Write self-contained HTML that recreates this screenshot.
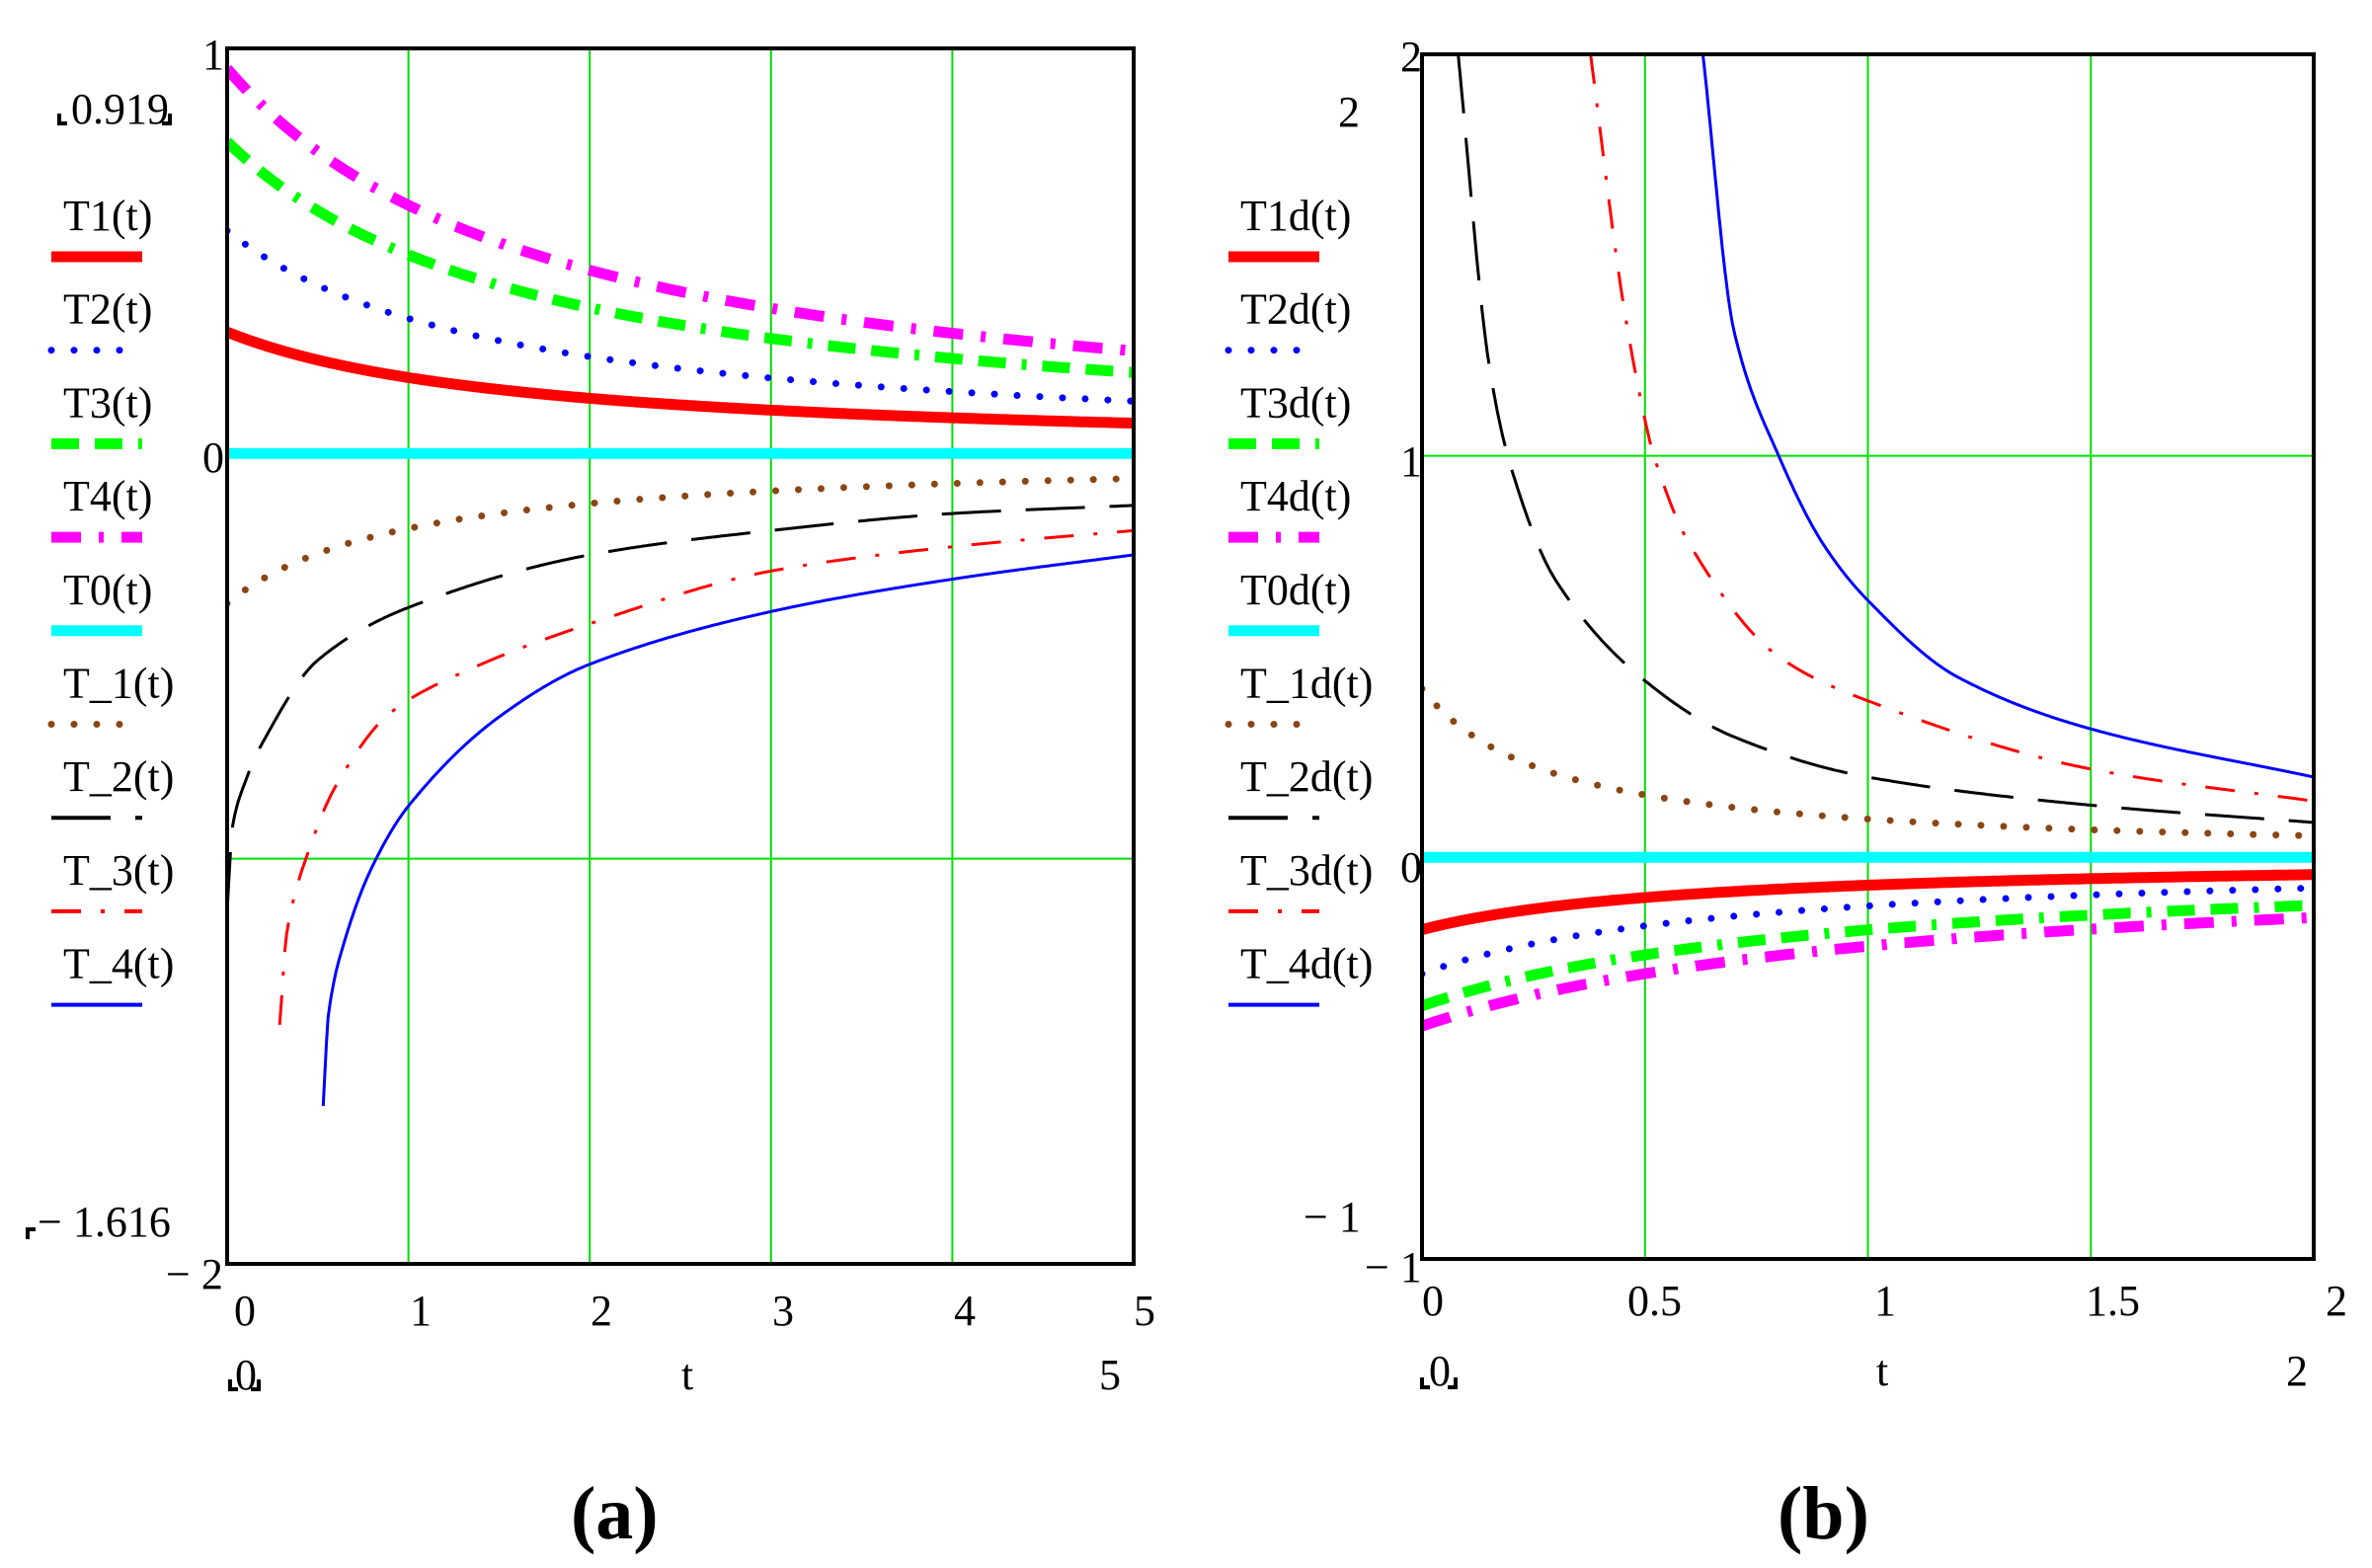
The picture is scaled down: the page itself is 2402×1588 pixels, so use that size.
<!DOCTYPE html>
<html><head><meta charset="utf-8"><style>
html,body{margin:0;padding:0;background:#fff;}
svg{display:block;}
text{font-family:"Liberation Serif",serif;fill:#000;}
</style></head><body>
<svg id="s" xmlns="http://www.w3.org/2000/svg" width="2402" height="1588" viewBox="0 0 2402 1588">
<defs>
<clipPath id="ca"><rect x="230" y="49" width="918" height="1231"/></clipPath>
<clipPath id="cb"><rect x="1440" y="55" width="903" height="1220"/></clipPath>
</defs>
<g id="ga"></g>
<g id="gb"></g>
<g font-size="44">
<text x="205" y="70">1</text>
<text x="205" y="478">0</text>
<text x="168" y="1305">− 2</text>
<text x="237" y="1342">0</text>
<text x="415" y="1342">1</text>
<text x="598" y="1342">2</text>
<text x="782" y="1342">3</text>
<text x="966" y="1342">4</text>
<text x="1148" y="1342">5</text>
<text x="238" y="1407">0</text>
<text x="690" y="1407">t</text>
<text x="1113" y="1407">5</text>
<text x="72" y="125">0.919</text>
<text x="38" y="1252">− 1.616</text>
<text x="578" y="1558" font-size="76" font-weight="bold">(a)</text>
<text x="1418" y="72">2</text>
<text x="1355" y="128">2</text>
<text x="1418" y="482">1</text>
<text x="1418" y="893">0</text>
<text x="1320" y="1247">− 1</text>
<text x="1382" y="1298">− 1</text>
<text x="1440" y="1332">0</text>
<text x="1648" y="1332">0.5</text>
<text x="1898" y="1332">1</text>
<text x="2112" y="1332">1.5</text>
<text x="2355" y="1332">2</text>
<text x="1447" y="1403">0</text>
<text x="1900" y="1403">t</text>
<text x="2315" y="1403">2</text>
<text x="1800" y="1558" font-size="76" font-weight="bold">(b)</text>
</g>
</svg>
<script>
const NS="http://www.w3.org/2000/svg";
function el(p,tag,a){const e=document.createElementNS(NS,tag);for(const k in a)e.setAttribute(k,a[k]);p.appendChild(e);return e;}
function txt(p,x,y,s){const e=el(p,"text",{x:x,y:y,"font-size":44});e.textContent=s;}
const S=document.getElementById('s');
function brk(x1,x2,y){el(S,"path",{d:`M${x1} ${y-10}V${y}H${x1+8} M${x2-8} ${y}H${x2}V${y-10}`,stroke:"#000","stroke-width":4,fill:"none"});}
brk(60,172,125);brk(233,262,1407);brk(1440,1474,1405);
el(S,"path",{d:"M28 1255V1245H36",stroke:"#000","stroke-width":4,fill:"none"});

function mono(pts){
 const n=pts.length,x=pts.map(p=>p[0]),y=pts.map(p=>p[1]);
 const d=[],m=new Array(n);
 for(let i=0;i<n-1;i++)d.push((y[i+1]-y[i])/(x[i+1]-x[i]));
 m[0]=d[0];m[n-1]=d[n-2];
 for(let i=1;i<n-1;i++){m[i]=(d[i-1]*d[i]<=0)?0:2/(1/d[i-1]+1/d[i]);}
 return t=>{if(t<=x[0])return y[0];if(t>=x[n-1])return y[n-1];
  let i=0;while(t>x[i+1])i++;
  const h=x[i+1]-x[i],s=(t-x[i])/h,s2=s*s,s3=s2*s;
  return (2*s3-3*s2+1)*y[i]+(s3-2*s2+s)*h*m[i]+(-2*s3+3*s2)*y[i+1]+(s3-s2)*h*m[i+1];};
}
const styles={
 r:{stroke:"#ff0000","stroke-width":11},
 bd:{stroke:"#0000ff","stroke-width":7,"stroke-dasharray":"0 23","stroke-linecap":"round"},
 g:{stroke:"#00ff00","stroke-width":11,"stroke-dasharray":"28 16 28 16 5 16"},
 m:{stroke:"#ff00ff","stroke-width":11,"stroke-dasharray":"30 18 5 18"},
 c:{stroke:"#00ffff","stroke-width":11},
 br:{stroke:"#8b4513","stroke-width":7,"stroke-dasharray":"0 23","stroke-linecap":"round"},
 k:{stroke:"#000","stroke-width":3,"stroke-dasharray":"60 25"},
 rr:{stroke:"#ff0000","stroke-width":3,"stroke-dasharray":"30 20 4 20"},
 b:{stroke:"#0000ff","stroke-width":3}
};
function panel(gid,clip,L,R,T,B,xmax,ymin,ymax,xgrid,ygrid,series,legend,lx){
 const g=document.getElementById(gid);
 const X=t=>L+(R-L)*t/xmax, Y=v=>T+(B-T)*(ymax-v)/(ymax-ymin);
 xgrid.forEach(t=>el(g,"line",{x1:X(t),x2:X(t),y1:T,y2:B,stroke:"#00e000","stroke-width":2}));
 ygrid.forEach(v=>el(g,"line",{x1:L,x2:R,y1:Y(v),y2:Y(v),stroke:"#00e000","stroke-width":2}));
 const cg=el(g,"g",{"clip-path":`url(#${clip})`});
 series.forEach(s=>{let d="";const n=500;for(let i=0;i<=n;i++){const t=s.t0+(s.t1-s.t0)*i/n;const v=s.f(t);d+=(i?"L":"M")+X(t).toFixed(1)+" "+Y(v).toFixed(1);}
  el(cg,"path",Object.assign({d:d,fill:"none"},styles[s.st]));});
 el(g,"rect",{x:L,y:T,width:R-L,height:B-T,fill:"none",stroke:"#000","stroke-width":4});
 legend.forEach((l,i)=>{const by=233+i*94.7;txt(g,lx+12,by,l[0]);
   el(g,"line",Object.assign({x1:lx,x2:lx+92,y1:by+27,y2:by+27},styles[l[1]],{"stroke-width":(styles[l[1]]["stroke-width"]>5?styles[l[1]]["stroke-width"]:4)}));});
}
const A=[
 {st:"r",t0:0,t1:5,f:t=>0.3/(1+0.6*t)},
 {st:"bd",t0:0,t1:5,f:t=>0.55/(1+0.65*t)},
 {st:"g",t0:0,t1:5,f:t=>0.77/(1+0.57*t)},
 {st:"m",t0:0,t1:5,f:t=>0.95/(1+0.55*t)},
 {st:"c",t0:0,t1:5,f:t=>0},
 {st:"br",t0:0,t1:5,f:t=>-0.37/(1+1.0*t)},
 {st:"k",t0:0,t1:5,f:mono([[0,-1.13],[0.03,-0.92],[0.1,-0.81],[0.2,-0.71],[0.5,-0.51],[1,-0.38],[2,-0.25],[3,-0.19],[4,-0.148],[5,-0.128]])},
 {st:"rr",t0:0.29,t1:5,f:mono([[0.29,-1.41],[0.33,-1.18],[0.45,-0.98],[0.6,-0.82],[0.9,-0.64],[1.3,-0.54],[2,-0.42],[3,-0.29],[4,-0.23],[5,-0.19]])},
 {st:"b",t0:0.53,t1:5,f:mono([[0.53,-1.61],[0.56,-1.38],[0.65,-1.2],[0.8,-1.02],[1,-0.87],[1.5,-0.65],[2,-0.52],[3,-0.39],[4,-0.31],[5,-0.25]])}
];
panel("ga","ca",230,1148,49,1280,5,-2,1,[1,2,3,4],[-1],A,
 [["T1(t)","r"],["T2(t)","bd"],["T3(t)","g"],["T4(t)","m"],["T0(t)","c"],["T_1(t)","br"],["T_2(t)","k"],["T_3(t)","rr"],["T_4(t)","b"]],52);
const Bs=[
 {st:"r",t0:0,t1:2,f:t=>-0.18/(1+1.6*t)},
 {st:"bd",t0:0,t1:2,f:t=>-0.29/(1+1.4*t)},
 {st:"g",t0:0,t1:2,f:t=>-0.37/(1+1.05*t)},
 {st:"m",t0:0,t1:2,f:t=>-0.42/(1+0.9*t)},
 {st:"c",t0:0,t1:2,f:t=>0},
 {st:"br",t0:0,t1:2,f:t=>0.42/(1+3.4*t)},
 {st:"k",t0:0.081,t1:2,f:mono([[0.081,2],[0.15,1.23],[0.2,0.97],[0.3,0.69],[0.5,0.44],[0.7,0.3],[1,0.2],[1.5,0.13],[2,0.087]])},
 {st:"rr",t0:0.378,t1:2,f:mono([[0.378,2],[0.45,1.39],[0.5,1.09],[0.52,1.0],[0.6,0.78],[0.8,0.5],[1,0.39],[1.5,0.22],[2,0.14]])},
 {st:"b",t0:0.63,t1:2,f:mono([[0.63,2],[0.7,1.31],[0.8,1.0],[0.9,0.78],[1,0.64],[1.2,0.45],[1.5,0.32],[2,0.2]])}
];
panel("gb","cb",1440,2343,55,1275,2,-1,2,[0.5,1,1.5],[1],Bs,
 [["T1d(t)","r"],["T2d(t)","bd"],["T3d(t)","g"],["T4d(t)","m"],["T0d(t)","c"],["T_1d(t)","br"],["T_2d(t)","k"],["T_3d(t)","rr"],["T_4d(t)","b"]],1244);
</script>
</body></html>
